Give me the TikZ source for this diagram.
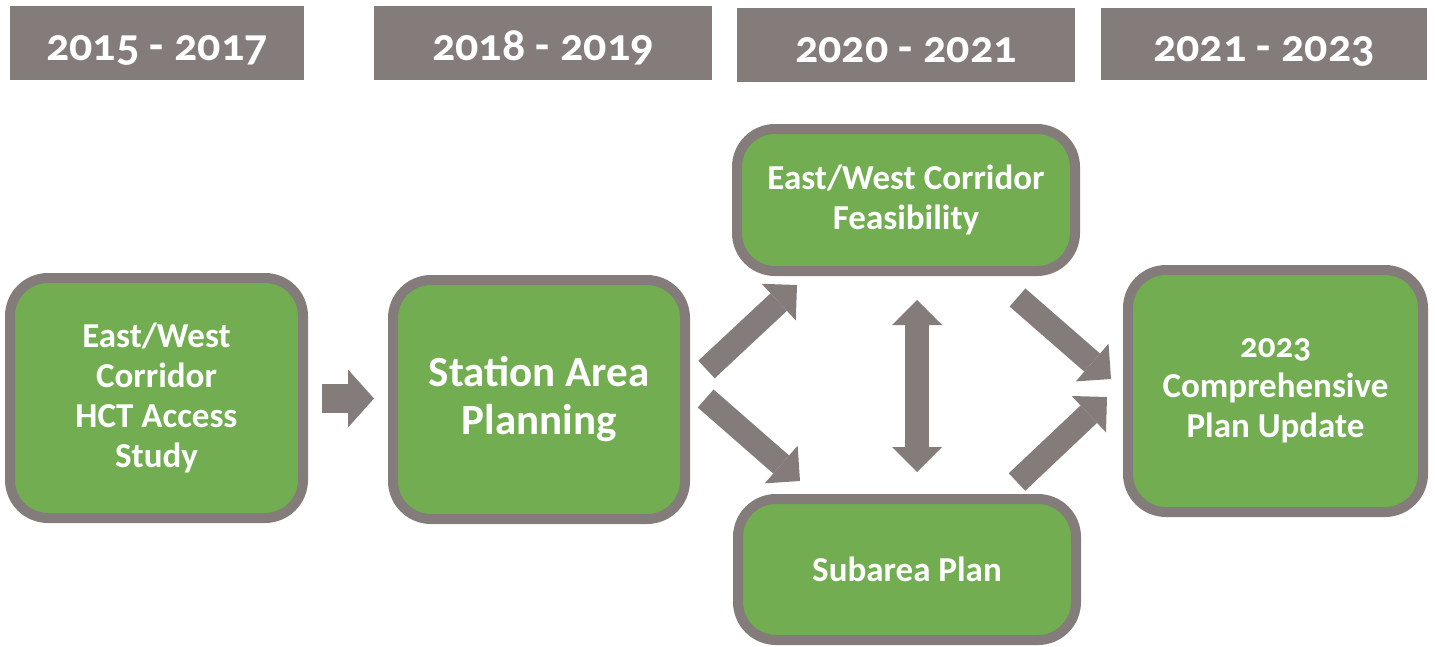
\documentclass[tikz,border=0pt]{standalone}
\usepackage{fontspec}
\setmainfont{Carlito}[Numbers=OldStyle]
\usetikzlibrary{arrows.meta}
\definecolor{boxgray}{RGB}{132,124,122}
\definecolor{boxgreen}{RGB}{114,173,81}
\tikzset{bighead/.tip={Triangle[length=25pt 0 0,width=50pt 0 0,line width=0pt]},
  smallhead/.tip={Triangle[length=26pt 0 0,width=58pt 0 0,line width=0pt]}}

\begin{document}
\begin{tikzpicture}[x=1pt,y=-1pt]
\tikzstyle{year}=[fill=boxgray,text=white,font=\fontsize{46}{50}\selectfont\bfseries,inner sep=0pt,text height=34pt,text depth=0pt];
\tikzstyle{stage}=[draw=boxgray,fill=boxgreen,line width=10pt,rounded corners=38pt,text=white,font=\fontsize{35}{40}\selectfont\bfseries,align=center,inner sep=0pt];
\tikzstyle{blk}=[draw=boxgray,line width=24pt,-bighead];

\useasboundingbox (0,0) rectangle (1435,646);

% year headers
\node [year,minimum width=294pt,minimum height=74pt] (y1) at (157,43) {2015 - 2017};
\node [year,minimum width=338pt,minimum height=74pt] (y2) at (543,43) {2018 - 2019};
\node [year,minimum width=338pt,minimum height=74pt] (y3) at (906,45) {2020 - 2021};
\node [year,minimum width=326pt,minimum height=72pt] (y4) at (1264,44) {2021 - 2023};

% stages
\node [stage,minimum width=293pt,minimum height=240pt] (hct) at (156.5,398) {East/West\\Corridor\\HCT Access\\Study};
\node [stage,minimum width=292pt,minimum height=239pt,font=\fontsize{43}{48}\selectfont\bfseries] (sap) at (539,399.5) {Station Area\\Planning};
\node [stage,minimum width=338pt,minimum height=142pt] (feas) at (906,200) {East/West Corridor\\Feasibility};
\node [stage,minimum width=338pt,minimum height=141pt] (sub) at (907,569.5) {Subarea Plan};
\node [stage,minimum width=295pt,minimum height=242pt] (comp) at (1275.5,391) {2023\\Comprehensive\\Plan Update};

% block arrows
\coordinate (ab1) at (322,398.5);
\coordinate (ab2) at (374,398.5);
\coordinate (bc1) at (706.5,369.5);
\coordinate (bc2) at (797,285);
\coordinate (bd1) at (705.7,398.5);
\coordinate (bd2) at (800,481);
\coordinate (ce1) at (1017.5,297.5);
\coordinate (ce2) at (1111,379);
\coordinate (de1) at (1017,482);
\coordinate (de2) at (1107,397);
\coordinate (cd1) at (917,300);
\coordinate (cd2) at (917,472);
\draw [blk,line width=29pt,-smallhead] (ab1) -- (ab2);
\draw [blk] (bc1) -- (bc2);
\draw [blk] (bd1) -- (bd2);
\draw [blk] (ce1) -- (ce2);
\draw [blk] (de1) -- (de2);
\draw [blk,bighead-bighead] (cd1) -- (cd2);
\end{tikzpicture}
\end{document}
